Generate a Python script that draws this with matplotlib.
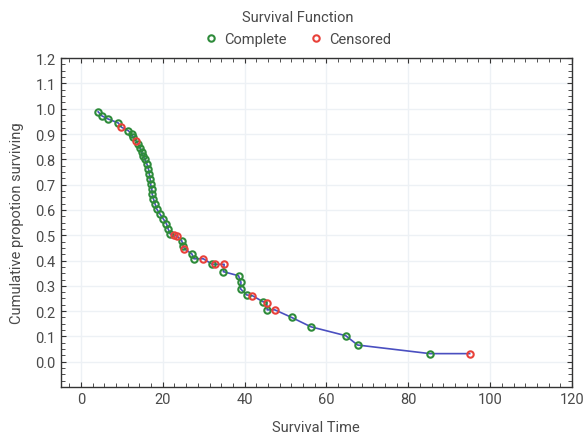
import matplotlib
matplotlib.use("Agg")
import matplotlib.pyplot as plt
from matplotlib.ticker import MultipleLocator, AutoMinorLocator
from matplotlib.lines import Line2D

plt.rcParams['font.family'] = ['Roboto', 'DejaVu Sans']

# survival time, cumulative proportion surviving, censored flag (1 = censored)
times = [4.2, 5.1, 6.7, 9.1, 9.9, 11.6, 12.4, 12.8, 13.4, 14.0,
         14.4, 14.8, 15.2, 15.6, 16.1, 16.5, 16.7, 16.9, 17.0, 17.3,
         17.4, 17.7, 18.1, 18.5, 19.3, 20.1, 20.9, 21.3, 21.8, 22.7,
         23.5, 24.6, 25.0, 25.3, 27.1, 27.6, 29.9, 32.1, 32.8, 35.0,
         34.8, 38.5, 39.1, 39.0, 40.5, 41.9, 44.5, 45.4, 45.5, 47.4,
         51.5, 56.2, 64.7, 67.6, 85.3, 95.0]
surv = [0.988, 0.972, 0.959, 0.944, 0.927, 0.913, 0.900, 0.887, 0.874, 0.861,
        0.845, 0.830, 0.815, 0.800, 0.782, 0.762, 0.742, 0.722, 0.703, 0.683,
        0.663, 0.644, 0.624, 0.604, 0.584, 0.565, 0.545, 0.525, 0.505, 0.500,
        0.496, 0.479, 0.459, 0.446, 0.426, 0.407, 0.407, 0.385, 0.385, 0.385,
        0.356, 0.340, 0.314, 0.288, 0.264, 0.261, 0.237, 0.234, 0.205, 0.205,
        0.175, 0.138, 0.103, 0.066, 0.032, 0.032]
censored = [0, 0, 0, 0, 1, 0, 0, 0, 1, 0,
            0, 0, 0, 0, 0, 0, 0, 0, 0, 0,
            0, 0, 0, 0, 0, 0, 0, 0, 0, 1,
            1, 0, 0, 1, 0, 0, 1, 0, 1, 1,
            0, 0, 0, 0, 0, 1, 0, 1, 0, 1,
            0, 0, 0, 0, 0, 1]

green = '#2e8b3a'
red = '#e8413a'
text_c = '#4a4a4a'

fig = plt.figure(figsize=(5.83, 4.35), dpi=100)
ax = fig.add_axes([0.1038, 0.108, 0.8773, 0.756])

ax.plot(times, surv, color='#4a4fc0', lw=1.2, zorder=2)
tc = [t for t, c in zip(times, censored) if c == 0]
sc = [s for s, c in zip(surv, censored) if c == 0]
tr = [t for t, c in zip(times, censored) if c == 1]
sr = [s for s, c in zip(surv, censored) if c == 1]
ax.plot(tc, sc, 'o', ms=4.6, mfc='none', mec=green, mew=1.5, zorder=3)
ax.plot(tr, sr, 'o', ms=4.6, mfc='none', mec=red, mew=1.5, zorder=3)

ax.set_xlim(-5, 120)
ax.set_ylim(-0.1, 1.2)
ax.xaxis.set_major_locator(MultipleLocator(20))
ax.yaxis.set_major_locator(MultipleLocator(0.1))
ax.xaxis.set_minor_locator(AutoMinorLocator(7))
ax.yaxis.set_minor_locator(AutoMinorLocator(4))
ax.set_yticks([i / 10 for i in range(0, 13)])
ax.set_yticklabels(['%.1f' % (i / 10) for i in range(0, 13)])

ax.grid(True, which='major', color='#edf1f5', lw=1.0, zorder=0)
ax.tick_params(which='both', direction='in', top=True, right=True, colors='#333333',
               labelcolor=text_c, labelsize=10.5)
ax.tick_params(which='major', length=3.5)
ax.tick_params(which='minor', length=3)
for sp in ax.spines.values():
    sp.set_color('#333333')
    sp.set_linewidth(1.0)

ax.set_xlabel('Survival Time', fontsize=10.5, color=text_c, labelpad=10)
ax.set_ylabel('Cumulative propotion surviving', fontsize=10.5, color=text_c, labelpad=8)

fig.text(0.51, 0.958, 'Survival Function', ha='center', va='center', fontsize=10.5, color=text_c)
handles = [Line2D([], [], ls='none', marker='o', ms=4.6, mfc='none', mec=green, mew=1.5),
           Line2D([], [], ls='none', marker='o', ms=4.6, mfc='none', mec=red, mew=1.5)]
fig.legend(handles, ['Complete', 'Censored'], loc='center', bbox_to_anchor=(0.51, 0.908),
           ncol=2, frameon=False, fontsize=10.5, labelcolor=text_c,
           handletextpad=0.4, columnspacing=1.5, handlelength=1.0)

fig.savefig('out.png', dpi=100)
